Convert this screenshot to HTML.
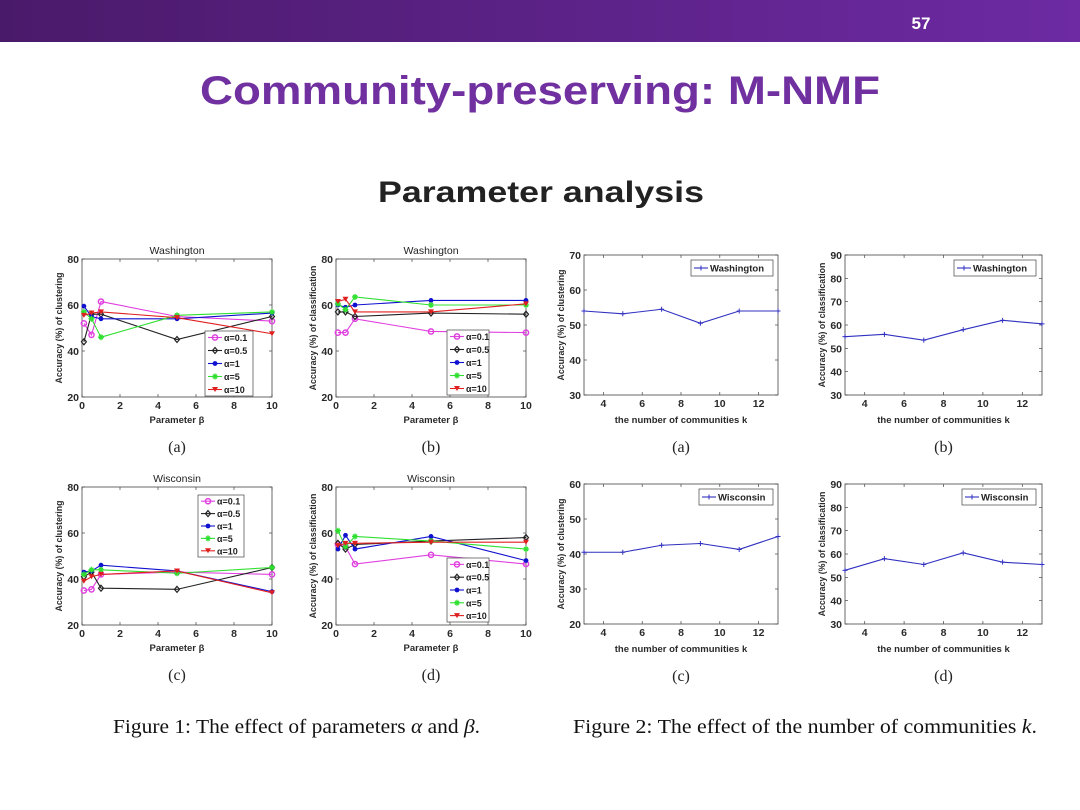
<!DOCTYPE html>
<html><head><meta charset="utf-8"><style>
html,body{margin:0;padding:0;background:#fff;}
svg{display:block;font-family:"Liberation Sans",sans-serif;}
</style></head><body>
<svg id="s" width="1080" height="810" viewBox="0 0 1080 810" xmlns="http://www.w3.org/2000/svg">
<defs><linearGradient id="g" x1="0" x2="1"><stop offset="0" stop-color="#4a1a6a"/><stop offset="1" stop-color="#6d2aa3"/></linearGradient></defs>
<rect x="0" y="0" width="1080" height="42" fill="url(#g)"/>
<text x="921" y="29" fill="#fff" font-size="17" font-weight="bold" text-anchor="middle">57</text>
<text x="540" y="104" fill="#7030a0" font-size="40" font-weight="bold" text-anchor="middle" textLength="680" lengthAdjust="spacingAndGlyphs">Community-preserving: M-NMF</text>
<text x="541" y="202" fill="#222" font-size="30" font-weight="bold" text-anchor="middle" textLength="326" lengthAdjust="spacingAndGlyphs">Parameter analysis</text>
<text x="113" y="733" font-family="Liberation Serif,serif" font-size="20" fill="#111" textLength="367" lengthAdjust="spacingAndGlyphs">Figure 1: The effect of parameters <tspan font-style="italic">α</tspan> and <tspan font-style="italic">β</tspan>.</text>
<text x="573" y="733" font-family="Liberation Serif,serif" font-size="20" fill="#111" textLength="464" lengthAdjust="spacingAndGlyphs">Figure 2: The effect of the number of communities <tspan font-style="italic">k</tspan>.</text>
</svg>
<script>
const betaValues=[0.1,0.5,1,5,10];
const alphaLabels=['α=0.1','α=0.5','α=1','α=5','α=10'];
const washClust=[[52,47,61.5,55,53],[44,56,56,45,55],[59.5,55,54,54,56.5],[57,54,46,55.5,57],[55.5,56.5,57,54.5,47.5]];
const washClass=[[48,48,54,48.5,48],[57,57,55,56.5,56],[60,59,60,62,62],[60.5,58,63.5,60,60],[61.5,62.5,57,57,60.5]];
const wiscClust=[[35,35.5,42,43,42],[41,43,36,35.5,45],[43,43.5,46,43.5,34.5],[42,44,44,42.5,45],[39,41,42,43.5,34]];
const wiscClass=[[55,54,46.5,50.5,46.5],[55.5,53,55,56.5,58],[53,59,53,58.5,48],[61,54,58.5,56.5,53],[54.5,55.5,55.5,56,56]];
const kValues=[3,5,7,9,11,13];
const washKClust=[54,53.2,54.5,50.5,54,54];
const washKClass=[55,56,53.5,58,62,60.5];
const wiscKClust=[40.5,40.5,42.5,43,41.3,45];
const wiscKClass=[53,58,55.5,60.5,56.5,55.5];
const betaTicks=[0,2,4,6,8,10];
const kTicks=[4,6,8,10,12];
const colors=['#e040e0','#222','#1010d0','#30e030','#e02020'];
const NS='http://www.w3.org/2000/svg';
const svg=document.getElementById('s');
function el(tag,attrs,parent,text){const e=document.createElementNS(NS,tag);for(const k in attrs)e.setAttribute(k,attrs[k]);if(text!==undefined)e.textContent=text;(parent||svg).appendChild(e);return e;}
function marker(g,type,x,y,c){
  let m;
  if(type===0)m=el('circle',{cx:x,cy:y,r:2.6,fill:'none',stroke:c,'stroke-width':1.5},g);
  else if(type===1)m=el('path',{d:`M${x} ${y-3}L${x+2.5} ${y}L${x} ${y+3}L${x-2.5} ${y}Z`,fill:'none',stroke:c,'stroke-width':1.2},g);
  else if(type===2)m=el('circle',{cx:x,cy:y,r:2.4,fill:c},g);
  else if(type===3)m=el('path',{d:`M${x-3} ${y}H${x+3}M${x} ${y-3}V${y+3}M${x-2} ${y-2}L${x+2} ${y+2}M${x-2} ${y+2}L${x+2} ${y-2}`,stroke:c,'stroke-width':1.3},g);
  else if(type===4)m=el('path',{d:`M${x-3} ${y-2.5}H${x+3}L${x} ${y+2.5}Z`,fill:c},g);
  else m=el('path',{d:`M${x-2.5} ${y}H${x+2.5}M${x} ${y-2.5}V${y+2.5}`,stroke:c,'stroke-width':1},g);
  
  
}
function chart(o){
  const g=el('g',{},svg);
  
  
  const X=v=>o.x0+(v-o.xmin)/(o.xmax-o.xmin)*(o.x1-o.x0);
  const Y=v=>o.y1-(v-o.ymin)/(o.ymax-o.ymin)*(o.y1-o.y0);
  const box=el('rect',{x:o.x0,y:o.y0,width:o.x1-o.x0,height:o.y1-o.y0,fill:'#fff',stroke:'#444','stroke-width':0.8},g);
  
  o.xticks.forEach(t=>{const x=X(t);el('line',{x1:x,x2:x,y1:o.y1,y2:o.y1-3,stroke:'#444','stroke-width':0.7},g);el('line',{x1:x,x2:x,y1:o.y0,y2:o.y0+3,stroke:'#444','stroke-width':0.7},g);
    const tl=el('text',{x:x,y:o.y1+12,'font-size':10.5,'font-weight':'bold',fill:'#2a2a2a','text-anchor':'middle'},g,t);});
  o.yticks.forEach(t=>{const y=Y(t);el('line',{x1:o.x0,x2:o.x0+3,y1:y,y2:y,stroke:'#444','stroke-width':0.7},g);el('line',{x1:o.x1,x2:o.x1-3,y1:y,y2:y,stroke:'#444','stroke-width':0.7},g);
    const tl=el('text',{x:o.x0-3,y:y+4,'font-size':10.5,'font-weight':'bold',fill:'#2a2a2a','text-anchor':'end'},g,t);});
  if(o.title){const t=el('text',{x:(o.x0+o.x1)/2,y:o.y0-5,'font-size':10.5,fill:'#222','text-anchor':'middle'},g,o.title);}
  const xl=el('text',{x:(o.x0+o.x1)/2,y:o.y1+(o.single?28:26),'font-size':9.5,'font-weight':'bold',fill:'#2a2a2a','text-anchor':'middle'},g,o.xlabel);
  const yc=(o.y0+o.y1)/2, yx=o.x0-20;
  const yl=el('text',{x:yx,y:yc,'font-size':8.8,'font-weight':'bold',fill:'#2a2a2a','text-anchor':'middle',transform:`rotate(-90 ${yx} ${yc})`},g,o.ylabel);
  const sl=el('text',{x:(o.x0+o.x1)/2,y:o.y1+(o.single?57:55),'font-size':16,'font-family':'Liberation Serif,serif',fill:'#222','text-anchor':'middle'},g,o.sub);
  o.series.forEach((vals,i)=>{
    const c=o.single?'#3030c0':colors[i];
    const pts=vals.map((v,j)=>X(o.xs[j])+','+Y(v)).join(' ');
    const pl=el('polyline',{points:pts,fill:'none',stroke:c,'stroke-width':1.1},g);
    
    vals.forEach((v,j)=>marker(g,o.single?5:i,X(o.xs[j]),Y(v),c));
  });
  const L=o.legend;
  const lg=el('g',{},g);
  el('rect',{x:L.x,y:L.y,width:L.w,height:L.h,fill:'#fff',stroke:'#444','stroke-width':0.7},lg);
  const labels=o.single?[o.title2]:alphaLabels;
  const step=L.h/labels.length;
  labels.forEach((lab,i)=>{const cy=L.y+step*(i+0.5);const c=o.single?'#3030c0':colors[i];
    el('line',{x1:L.x+3,x2:L.x+17,y1:cy,y2:cy,stroke:c,'stroke-width':1.1},lg);marker(lg,o.single?5:i,L.x+10,cy,c);
    const t=el('text',{x:L.x+19,y:cy+3.5,'font-size':o.single?9.5:9,'font-weight':'bold',fill:'#222'},lg,lab);});
}
const ylC='Accuracy (%) of clustering', ylS='Accuracy (%) of classification', xlB='Parameter β', xlK='the number of communities k';
chart({name:'chart-washington-clustering-beta',x0:82,x1:272,y0:259,y1:397,xmin:0,xmax:10,ymin:20,ymax:80,xticks:betaTicks,yticks:[20,40,60,80],xs:betaValues,series:washClust,title:'Washington',xlabel:xlB,ylabel:ylC,sub:'(a)',legend:{x:205,y:331,w:48,h:65}});
chart({name:'chart-washington-classification-beta',x0:336,x1:526,y0:259,y1:397,xmin:0,xmax:10,ymin:20,ymax:80,xticks:betaTicks,yticks:[20,40,60,80],xs:betaValues,series:washClass,title:'Washington',xlabel:xlB,ylabel:ylS,sub:'(b)',legend:{x:447,y:330,w:42,h:65}});
chart({name:'chart-wisconsin-clustering-beta',x0:82,x1:272,y0:487,y1:625,xmin:0,xmax:10,ymin:20,ymax:80,xticks:betaTicks,yticks:[20,40,60,80],xs:betaValues,series:wiscClust,title:'Wisconsin',xlabel:xlB,ylabel:ylC,sub:'(c)',legend:{x:198,y:495,w:46,h:62}});
chart({name:'chart-wisconsin-classification-beta',x0:336,x1:526,y0:487,y1:625,xmin:0,xmax:10,ymin:20,ymax:80,xticks:betaTicks,yticks:[20,40,60,80],xs:betaValues,series:wiscClass,title:'Wisconsin',xlabel:xlB,ylabel:ylS,sub:'(d)',legend:{x:447,y:558,w:42,h:64}});
chart({name:'chart-washington-clustering-k',single:true,title2:'Washington',x0:584,x1:778,y0:255,y1:395,xmin:3,xmax:13,ymin:30,ymax:70,xticks:kTicks,yticks:[30,40,50,60,70],xs:kValues,series:[washKClust],xlabel:xlK,ylabel:ylC,sub:'(a)',legend:{x:691,y:260,w:82,h:16}});
chart({name:'chart-washington-classification-k',single:true,title2:'Washington',x0:845,x1:1042,y0:255,y1:395,xmin:3,xmax:13,ymin:30,ymax:90,xticks:kTicks,yticks:[30,40,50,60,70,80,90],xs:kValues,series:[washKClass],xlabel:xlK,ylabel:ylS,sub:'(b)',legend:{x:954,y:260,w:82,h:16}});
chart({name:'chart-wisconsin-clustering-k',single:true,title2:'Wisconsin',x0:584,x1:778,y0:484,y1:624,xmin:3,xmax:13,ymin:20,ymax:60,xticks:kTicks,yticks:[20,30,40,50,60],xs:kValues,series:[wiscKClust],xlabel:xlK,ylabel:ylC,sub:'(c)',legend:{x:699,y:489,w:74,h:16}});
chart({name:'chart-wisconsin-classification-k',single:true,title2:'Wisconsin',x0:845,x1:1042,y0:484,y1:624,xmin:3,xmax:13,ymin:30,ymax:90,xticks:kTicks,yticks:[30,40,50,60,70,80,90],xs:kValues,series:[wiscKClass],xlabel:xlK,ylabel:ylS,sub:'(d)',legend:{x:962,y:489,w:74,h:16}});
</script>
</body></html>
